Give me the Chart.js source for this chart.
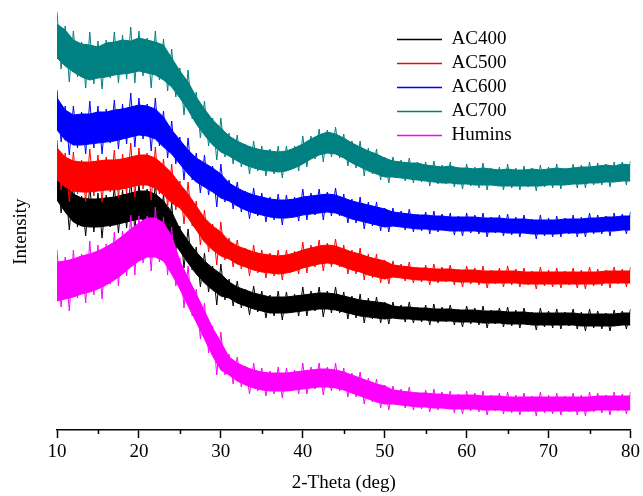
<!DOCTYPE html>
<html>
<head>
<meta charset="utf-8">
<script src="https://cdn.jsdelivr.net/npm/chart.js@4.4.0/dist/chart.umd.min.js"></script>
<style>
html, body { margin: 0; padding: 0; background: #fff; }
</style>
</head>
<body>
<canvas id="xrdChart" width="643" height="496"></canvas>
<script>
// scan grid: 10 -> 80 deg
const startAngle = 10
const envStep = 1      // band edges, one value per degree
const noiseStep = 0.5  // noise peaks and dips, every half degree

// intensities (arbitrary units)
// band edges (upper / lower side of the dense trace), 10..80 deg
const ac400Upper = [262,246,236,232,231,231,232,233,235,237,239,239,236,229,218,201,189,178,169,162,156,148,143,140,137,135,133,133,133,134,135,136,137,137,136,134,132,130,129,128,127,124,123,123,122,122,121,121,121,120,120,120,119,119,119,118,118,118,117,117,117,117,117,117,116,116,116,116,116,117,117]
const ac400Lower = [230,218,208,204,203,203,204,205,207,209,211,211,208,201,190,179,167,156,147,140,134,132,127,124,121,119,117,117,117,118,119,120,121,121,120,118,116,114,113,112,111,112,111,111,110,110,109,109,109,108,108,108,107,107,107,106,106,106,105,105,105,105,105,105,104,104,104,104,104,105,105]
const ac500Upper = [282,273,269,268,268,269,270,270,271,273,275,275,272,265,257,246,236,224,212,204,198,189,184,181,178,176,175,174,175,177,180,182,184,185,184,181,178,176,173,171,169,165,164,163,162,162,161,161,161,160,160,160,159,159,159,159,159,158,158,158,158,158,158,158,158,158,158,159,159,159,159]
const ac500Lower = [250,243,239,238,238,239,240,240,241,243,245,245,242,235,227,222,212,200,188,180,174,171,166,163,160,158,157,156,157,159,162,164,166,167,166,163,160,158,155,153,151,153,152,151,150,150,149,149,149,148,148,148,147,147,147,147,147,146,146,146,146,146,146,146,146,146,146,147,147,147,147]
const ac600Upper = [332,320,315,316,316,318,318,320,321,323,325,324,321,313,300,290,280,272,267,262,256,247,242,238,235,233,231,230,230,231,233,234,235,236,235,232,229,227,225,223,221,218,217,216,215,215,214,214,213,213,213,213,212,212,212,211,211,211,210,210,210,210,211,211,211,212,212,213,213,214,214]
const ac600Lower = [300,290,285,285,286,287,288,289,291,293,295,294,291,283,276,266,256,248,243,238,232,229,224,220,217,215,213,212,212,213,215,216,217,218,217,214,211,209,207,205,203,204,203,202,201,201,200,200,199,199,199,199,198,198,198,197,197,197,196,196,196,196,197,197,197,198,198,199,199,200,200]
const ac700Upper = [406,400,390,386,385,383,387,388,390,389,392,390,388,385,372,359,348,333,321,310,302,294,289,285,282,280,279,278,279,282,286,291,295,298,296,292,287,283,279,276,272,269,268,267,267,265,264,263,264,262,262,261,262,261,260,261,260,260,261,260,261,262,261,262,263,263,264,265,264,266,265]
const ac700Lower = [372,364,358,353,350,352,353,355,356,357,359,357,355,350,343,332,320,306,295,285,278,274,269,265,262,260,259,258,259,262,266,271,275,277,276,272,267,263,259,256,253,253,252,251,250,249,248,247,247,246,246,245,245,245,244,244,244,244,244,244,245,245,245,246,246,247,247,248,248,249,249]
const huminsUpper = [168,169,171,174,176,179,183,188,194,201,207,212,212,207,194,169,152,136,119,102,88,73,67,63,60,58,57,57,57,58,59,60,61,61,60,58,55,52,49,46,44,40,39,38,37,37,36,36,35,35,35,35,34,34,34,33,33,33,33,33,33,33,33,33,33,33,34,34,34,34,34]
const huminsLower = [129,131,133,136,138,141,145,150,156,163,169,173,173,169,156,141,124,108,91,74,60,55,49,45,42,40,39,39,39,40,41,42,43,43,42,40,37,34,31,28,26,26,25,24,23,23,22,22,21,21,21,21,20,20,20,19,19,19,19,19,19,19,19,19,19,19,20,20,20,20,20]

// noise spikes (peak, dip, peak, ...), 10..80 deg every half degree
const ac400Noise = [
  266,217,250,200,245,203,234,194,244,198,237,192,235,203,243,197,240,202,251,199,
  246,207,241,196,247,202,235,188,227,180,204,162,201,160,183,143,177,138,164,125,
  166,130,151,124,149,122,141,115,144,118,139,112,135,114,139,110,138,117,136,114,
  143,114,139,119,143,113,139,117,143,117,138,111,134,112,136,107,132,111,133,107,
  128,106,128,111,125,108,128,107,123,108,125,105,126,107,123,108,125,105,121,103,
  124,106,122,105,124,102,120,106,122,103,123,104,120,102,122,105,118,100,122,103,
  119,102,121,101,118,104,121,101,118,99,121,102,119,101,117,99,120,104,119,101,
  121
]
const ac500Noise = [
  290,240,277,228,278,236,270,228,281,234,275,228,273,238,280,232,276,236,287,233,
  282,241,277,230,283,236,271,223,266,220,249,206,248,204,229,185,220,178,206,165,
  208,170,192,163,190,161,182,154,185,157,180,152,177,154,180,150,180,157,179,156,
  188,157,185,163,190,159,187,163,191,163,185,156,180,156,182,150,176,152,176,147,
  170,146,169,152,166,149,168,147,163,148,165,145,166,147,163,148,165,145,161,143,
  164,146,162,145,164,142,160,146,162,143,164,145,161,143,162,145,159,141,163,144,
  160,143,162,142,159,145,162,142,160,141,163,144,161,144,160,142,163,146,161,143,
  163
]
const ac600Noise = [
  340,288,324,275,324,282,318,276,329,282,324,276,321,287,330,281,326,286,337,283,
  332,291,326,279,332,284,319,272,309,266,293,250,292,250,277,237,275,235,264,223,
  266,228,250,221,248,218,239,211,242,214,237,208,233,210,236,205,235,212,233,209,
  241,210,237,215,241,210,238,214,242,214,236,207,231,207,233,201,228,204,228,199,
  222,198,222,203,219,200,221,198,216,199,218,196,219,198,216,199,217,195,214,194,
  217,197,215,196,217,193,213,197,215,194,216,195,213,193,215,196,211,191,215,194,
  212,193,214,193,212,196,215,193,213,193,217,196,215,196,214,194,217,199,216,196,
  218
]
const ac700Noise = [
  418,361,404,348,399,353,388,342,398,346,389,341,390,352,398,347,395,351,403,347,
  399,354,392,342,399,350,391,339,381,333,362,315,360,311,338,292,329,284,312,270,
  312,273,297,266,295,263,286,256,289,259,284,254,281,256,284,252,284,260,284,259,
  294,263,294,271,301,268,300,273,303,272,296,264,289,262,289,254,282,256,281,250,
  273,247,273,252,270,249,272,247,268,248,268,244,269,246,265,246,268,243,263,241,
  266,244,263,242,267,240,262,244,263,240,266,242,262,240,264,243,262,239,265,243,
  263,242,266,241,262,245,266,242,265,242,268,245,267,245,266,243,268,248,268,245,
  269
]
const huminsNoise = [
  180,123,173,119,180,132,176,127,189,135,185,131,186,146,198,144,199,154,215,155,
  214,167,214,159,223,168,213,155,203,144,172,122,164,114,141,91,127,77,104,55,
  98,55,76,46,73,43,64,36,67,39,62,34,59,36,63,32,62,39,60,36,
  67,36,63,41,67,35,63,39,67,39,62,33,57,33,58,26,52,28,51,22,
  45,20,44,25,41,22,43,20,38,21,40,18,41,20,38,21,39,17,36,16,
  39,19,37,18,39,15,35,19,37,16,38,17,35,15,37,18,34,14,38,17,
  35,16,37,15,34,18,37,15,35,14,38,18,37,17,35,15,38,19,36,16,
  38
]

const seriesNames = ['AC400', 'AC500', 'AC600', 'AC700', 'Humins']
const seriesUpper = [ac400Upper, ac500Upper, ac600Upper, ac700Upper, huminsUpper]
const seriesLower = [ac400Lower, ac500Lower, ac600Lower, ac700Lower, huminsLower]
const seriesNoise = [ac400Noise, ac500Noise, ac600Noise, ac700Noise, huminsNoise]
const seriesColors = ['#000000', '#ff0000', '#0000ff', '#008080', '#ff00ff']

const xMajorTicks = [10, 20, 30, 40, 50, 60, 70, 80]
const xMinorTicks = [15, 25, 35, 45, 55, 65, 75]

const serif = 'Liberation Serif, Times New Roman, serif'

function toPoints(vals, step){
    return vals.map((v, i) => ({x: startAngle + i * step, y: v}))
}

const datasets = []
seriesNames.forEach((name, i) => {
    const col = seriesColors[i]
    const base = (seriesNames.length - i) * 10   // later series drawn on top
    datasets.push({
        label: '',
        data: toPoints(seriesUpper[i], envStep),
        borderColor: col, borderWidth: 1, pointRadius: 0, tension: 0,
        fill: false, order: base + 2
    })
    datasets.push({
        label: '',
        data: toPoints(seriesLower[i], envStep),
        borderColor: col, backgroundColor: col, borderWidth: 1, pointRadius: 0, tension: 0,
        fill: '-1', order: base + 1
    })
    datasets.push({
        label: name,
        data: toPoints(seriesNoise[i], noiseStep),
        borderColor: col, backgroundColor: col, borderWidth: 1,
        borderJoinStyle: 'bevel', pointRadius: 0, tension: 0,
        pointBorderColor: col, pointBackgroundColor: col, pointBorderWidth: 1.5,
        fill: false, order: base
    })
})

// short minor ticks on the x axis, placed through the scale
const minorTickPlugin = {
    id: 'minorTicks',
    afterDraw(chart){
        const xs = chart.scales.x
        const ctx = chart.ctx
        ctx.save()
        ctx.strokeStyle = '#000'
        ctx.lineWidth = 1.5
        xMinorTicks.forEach(v => {
            const px = Math.round(xs.getPixelForValue(v)) + 0.5
            ctx.beginPath()
            ctx.moveTo(px, xs.top)
            ctx.lineTo(px, xs.top + 4)
            ctx.stroke()
        })
        ctx.restore()
    }
}

// put the legend in the upper right of the plot
const legendPlace = {
    id: 'legendPlace',
    afterLayout(chart){
        const lg = chart.legend
        const w = lg.width, h = lg.height
        lg.left = 392
        lg.right = 392 + w
        lg.top = 25
        lg.bottom = 25 + h
    }
}

const myChart = new Chart(document.getElementById('xrdChart'), {
    type: 'line',
    data: {datasets: datasets},
    options: {
        responsive: false,
        animation: false,
        devicePixelRatio: 1,
        layout: {padding: {top: 0, right: 12, left: 0, bottom: 0}},
        plugins: {
            tooltip: {enabled: false},
            legend: {
                position: 'chartArea',
                align: 'start',
                labels: {
                    usePointStyle: true,
                    pointStyle: 'line',
                    pointStyleWidth: 45,
                    padding: 5,
                    color: '#000',
                    font: {family: serif, size: 19},
                    filter: (item) => item.text !== '',
                    sort: (a, b) => a.datasetIndex - b.datasetIndex
                }
            }
        },
        scales: {
            x: {
                type: 'linear',
                min: 10,
                max: 80,
                afterFit(scale){ scale.height = 66 },
                afterBuildTicks(scale){ scale.ticks = xMajorTicks.map(v => ({value: v})) },
                ticks: {color: '#000', padding: 3, font: {family: serif, size: 19}, maxRotation: 0},
                grid: {drawOnChartArea: false, drawTicks: true, tickLength: 8, tickColor: '#000', tickWidth: 1.5},
                border: {display: true, color: '#000', width: 1.5},
                title: {display: true, text: '2-Theta (deg)', color: '#000', padding: {top: 0, bottom: 2}, font: {family: serif, size: 19}}
            },
            y: {
                type: 'linear',
                min: 0,
                max: 430,
                afterFit(scale){ scale.width = 57 },
                ticks: {display: false},
                grid: {display: false},
                border: {display: false},
                // trailing no-break spaces nudge the word a little below the plot centre
                title: {display: true, text: 'Intensity\u00a0\u00a0\u00a0\u00a0\u00a0\u00a0\u00a0', color: '#000', padding: {top: 10, bottom: 0}, font: {family: serif, size: 19}}
            }
        }
    },
    plugins: [minorTickPlugin, legendPlace]
})
</script>
</body>
</html>
